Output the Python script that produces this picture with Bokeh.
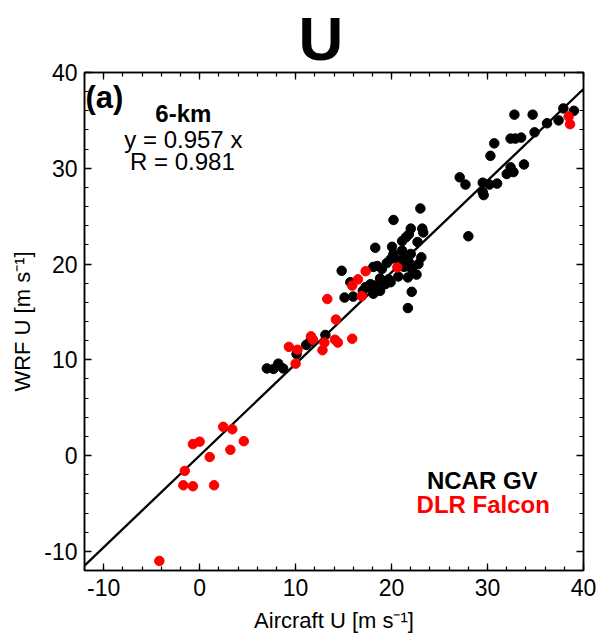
from bokeh.plotting import figure
from bokeh.models import Range1d, LinearAxis, Label, FixedTicker
from bokeh.embed import file_html
from bokeh.resources import INLINE

# NCAR GV (black)
gv_x = [7.0, 7.7, 8.2, 8.7, 10.1, 11.1, 11.5, 13.1,
        14.8, 15.1, 16.0, 15.7, 17.0, 17.6, 18.1, 18.5, 18.3, 17.3, 18.8, 18.1,
        19.35, 19.9, 19.7, 18.8, 17.8, 20.7, 21.7, 22.6, 22.1, 21.3, 19.0, 19.5,
        19.9, 20.7, 21.8, 22.8, 21.4, 22.0, 23.1, 20.2, 21.1, 18.3, 20.05, 22.7,
        21.1, 21.5, 21.8, 22.0, 23.2, 23.3, 20.2, 23.0, 22.1, 21.7,
        28.0, 27.1, 27.7, 29.5, 30.2, 31.0, 29.5, 29.6, 32.4, 32.0, 32.7, 33.8,
        30.3, 30.7, 32.4, 32.9, 33.5, 32.8, 34.7, 34.9, 36.2, 37.4, 37.9, 39.0]
gv_y = [9.1, 9.05, 9.6, 9.1, 10.6, 11.55, 11.9, 12.6,
        19.3, 16.5, 16.6, 18.1, 17.2, 17.6, 19.7, 19.8, 17.75, 17.6, 17.2, 16.9,
        17.9, 18.1, 18.4, 18.5, 17.9, 18.7, 18.6, 18.9, 19.5, 19.7, 19.5, 20.1,
        20.5, 20.4, 20.2, 20.0, 20.7, 21.05, 20.7, 21.05, 21.4, 21.7, 21.8, 22.3,
        22.4, 22.8, 23.1, 23.7, 23.7, 23.3, 24.6, 25.8, 17.1, 15.4,
        22.9, 29.05, 28.3, 28.5, 28.3, 28.4, 27.5, 27.2, 30.1, 29.4, 29.6, 30.4,
        31.3, 32.6, 33.1, 33.1, 33.2, 35.6, 35.6, 33.75, 34.7, 35.0, 36.25, 36.0]

# DLR Falcon (red)
falcon_x = [-4.2, -1.7, -0.7, 1.5, -1.55, 1.05, 3.2, -0.7, 0.0, 2.45, 3.4, 4.6,
            9.3, 10.2, 10.0, 11.6, 11.8, 12.8, 13.0, 14.1, 14.4, 15.9, 14.2, 13.3,
            15.9, 16.5, 17.3, 16.9, 20.6, 38.45, 38.6]
falcon_y = [-11.0, -3.1, -3.2, -3.1, -1.6, -0.15, 0.6, 1.2, 1.45, 3.0, 2.75, 1.5,
            11.35, 11.05, 9.6, 12.45, 12.1, 11.0, 11.8, 12.1, 11.8, 12.2, 14.2, 16.35,
            17.75, 18.4, 19.25, 16.65, 19.65, 35.4, 34.6]

slope = 0.957
r_value = 0.981
x_limits = [-12, 40]
y_limits = [-12, 40]
x_ticks = [-10, 0, 10, 20, 30, 40]
y_ticks = [-10, 0, 10, 20, 30, 40]
tick_labels = ["-10", "0", "10", "20", "30", "40"]
minor_ticks = list(range(-12, 41, 2))

FONT = "Liberation Sans"

p = figure(width=597, height=639,
           x_range=Range1d(*x_limits), y_range=Range1d(*y_limits),
           output_backend="svg", toolbar_location=None,
           min_border_left=84, min_border_right=14,
           min_border_top=72, min_border_bottom=69)

p.title.text = "U"
p.title.text_font = FONT
p.title.text_font_size = "62px"
p.title.text_font_style = "bold"
p.title.text_color = "black"
p.title.align = "left"
p.title.offset = 214
p.title.standoff = 0

p.xgrid.visible = False
p.ygrid.visible = False
p.outline_line_color = "black"
p.outline_line_width = 1.5
p.background_fill_color = "white"
p.border_fill_color = "white"

def style_axis(ax, ticks, show_labels):
    ax.ticker = FixedTicker(ticks=ticks, minor_ticks=minor_ticks)
    ax.axis_line_color = "black"
    ax.axis_line_width = 1.5
    ax.major_tick_in = 7
    ax.major_tick_out = 0
    ax.minor_tick_in = 4
    ax.minor_tick_out = 0
    ax.major_tick_line_color = "black"
    ax.minor_tick_line_color = "black"
    ax.major_tick_line_width = 1.3
    ax.minor_tick_line_width = 1.2
    ax.major_label_text_font = FONT
    if show_labels:
        ax.major_label_text_font_size = "23px"
        ax.major_label_text_color = "black"
        ax.major_label_overrides = {t: s for t, s in zip(ticks, tick_labels)}
    else:
        ax.major_label_overrides = {t: "" for t in ticks}
        ax.major_label_standoff = 0

style_axis(p.xaxis[0], x_ticks, True)
style_axis(p.yaxis[0], y_ticks, True)
p.xaxis[0].axis_label = "Aircraft U [m s\u207b\u00b9]"
p.yaxis[0].axis_label = "WRF U [m s\u207b\u00b9]"
for ax in (p.xaxis[0], p.yaxis[0]):
    ax.axis_label_text_font = FONT
    ax.axis_label_text_font_size = "22px"
    ax.axis_label_text_font_style = "normal"
    ax.axis_label_text_color = "black"
p.xaxis[0].major_label_standoff = 8
p.xaxis[0].axis_label_standoff = 9
p.yaxis[0].major_label_standoff = 7
p.yaxis[0].axis_label_standoff = 6

top_ax = LinearAxis()
right_ax = LinearAxis()
style_axis(top_ax, x_ticks, False)
style_axis(right_ax, y_ticks, False)
p.add_layout(top_ax, "above")
p.add_layout(right_ax, "right")

# regression line y = slope * x across the range
fit_x = x_limits
fit_y = [slope * v for v in fit_x]
p.line(fit_x, fit_y, line_color="black", line_width=2.3)

p.scatter(gv_x, gv_y, size=9.5, fill_color="black", line_color="black")
p.scatter(falcon_x, falcon_y, size=9.5, fill_color="red", line_color="red")

def add_label(x, y, text, size, bold=False, color="black", align="center"):
    p.add_layout(Label(x=x, y=y, text=text, text_font=FONT,
                       text_font_size=size,
                       text_font_style="bold" if bold else "normal",
                       text_color=color, text_align=align,
                       text_baseline="middle"))

add_label(-11.9, 37.4, "(a)", "31px", bold=True, align="left")
add_label(-1.7, 35.7, "6-km", "24px", bold=True)
add_label(-1.7, 33.0, "y = %.3f x" % slope, "24px")
add_label(-1.8, 30.7, "R = %.3f" % r_value, "24px")
add_label(29.45, -2.6, "NCAR GV", "24px", bold=True)
add_label(29.55, -5.1, "DLR Falcon", "24px", bold=True, color="red")

open("out.html", "w").write(file_html(p, INLINE))
